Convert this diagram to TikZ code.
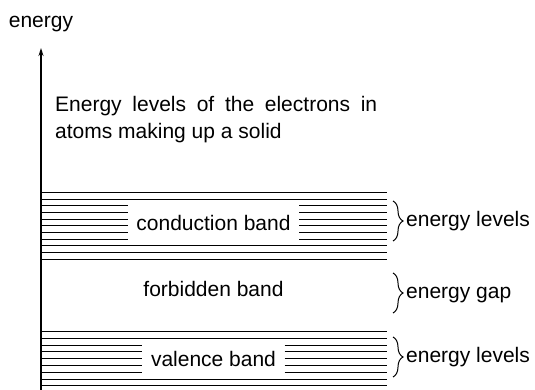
\documentclass[tikz,border=0pt]{standalone}
\usepackage{fontspec}
\setmainfont{Liberation Sans}
\usetikzlibrary{arrows.meta,positioning,decorations.pathreplacing}

\begin{document}
\begin{tikzpicture}[
  x=1pt,y=-1pt,
  >={Stealth[length=8pt,width=5pt]},
  txt/.style={font=\fontsize{21}{27}\selectfont,inner sep=0pt},
  bandname/.style={txt,inner xsep=8.5pt,anchor=base},
  sideline/.style={txt,anchor=base west},
  energyline/.style={line width=1.1pt},
  axisline/.style={->,line width=1.2pt},
  curly/.style={decorate,decoration={brace,amplitude=10pt},line width=1pt}
]
\useasboundingbox (0,0) rectangle (535,390);

% energy axis
\node[txt] (yname) at (41,24) {energy};
\coordinate (base) at (41,390);
\coordinate (tip) at (41,48);
\draw[axisline] (base) -- (tip);

\node[txt,anchor=north west,text width=322pt,align=justify] (intro) at (55,96)
  {Energy levels of the electrons in\linebreak atoms making up a solid};

% band labels
\node[bandname] (cb) at (213.5,230) {conduction band};
\node[bandname] (fb) at (213.5,296.5) {forbidden band};
\node[bandname] (vb) at (213.5,366) {valence band};

% conduction band
\foreach \k in {0,...,10} {
  \coordinate (l) at (41,192.5+6.67*\k);
  \coordinate (r) at (386.5,192.5+6.67*\k);
  \ifnum\k<2 \draw[energyline] (l) -- (r);
  \else\ifnum\k>7 \draw[energyline] (l) -- (r);
  \else \draw[energyline] (l) -- (l -| cb.west) (l -| cb.east) -- (r);
  \fi\fi
}

% valence band
\foreach \k in {0,...,8} {
  \coordinate (l) at (41,331.5+6.8*\k);
  \coordinate (r) at (386.5,331.5+6.8*\k);
  \ifnum\k<2 \draw[energyline] (l) -- (r);
  \else\ifnum\k>6 \draw[energyline] (l) -- (r);
  \else \draw[energyline] (l) -- (l -| vb.west) (l -| vb.east) -- (r);
  \fi\fi
}

% braces
\coordinate (c1) at (393,201);
\coordinate (c2) at (393,241);
\coordinate (g1) at (393,273);
\coordinate (g2) at (393,313);
\coordinate (v1) at (393,337);
\coordinate (v2) at (393,377);
\draw[curly] (c1) -- (c2);
\draw[curly] (g1) -- (g2);
\draw[curly] (v1) -- (v2);
\node[sideline] (clev) at (406,226) {energy levels};
\node[sideline] (egap) at (406,298) {energy gap};
\node[sideline] (vlev) at (406,362) {energy levels};
\end{tikzpicture}
\end{document}
